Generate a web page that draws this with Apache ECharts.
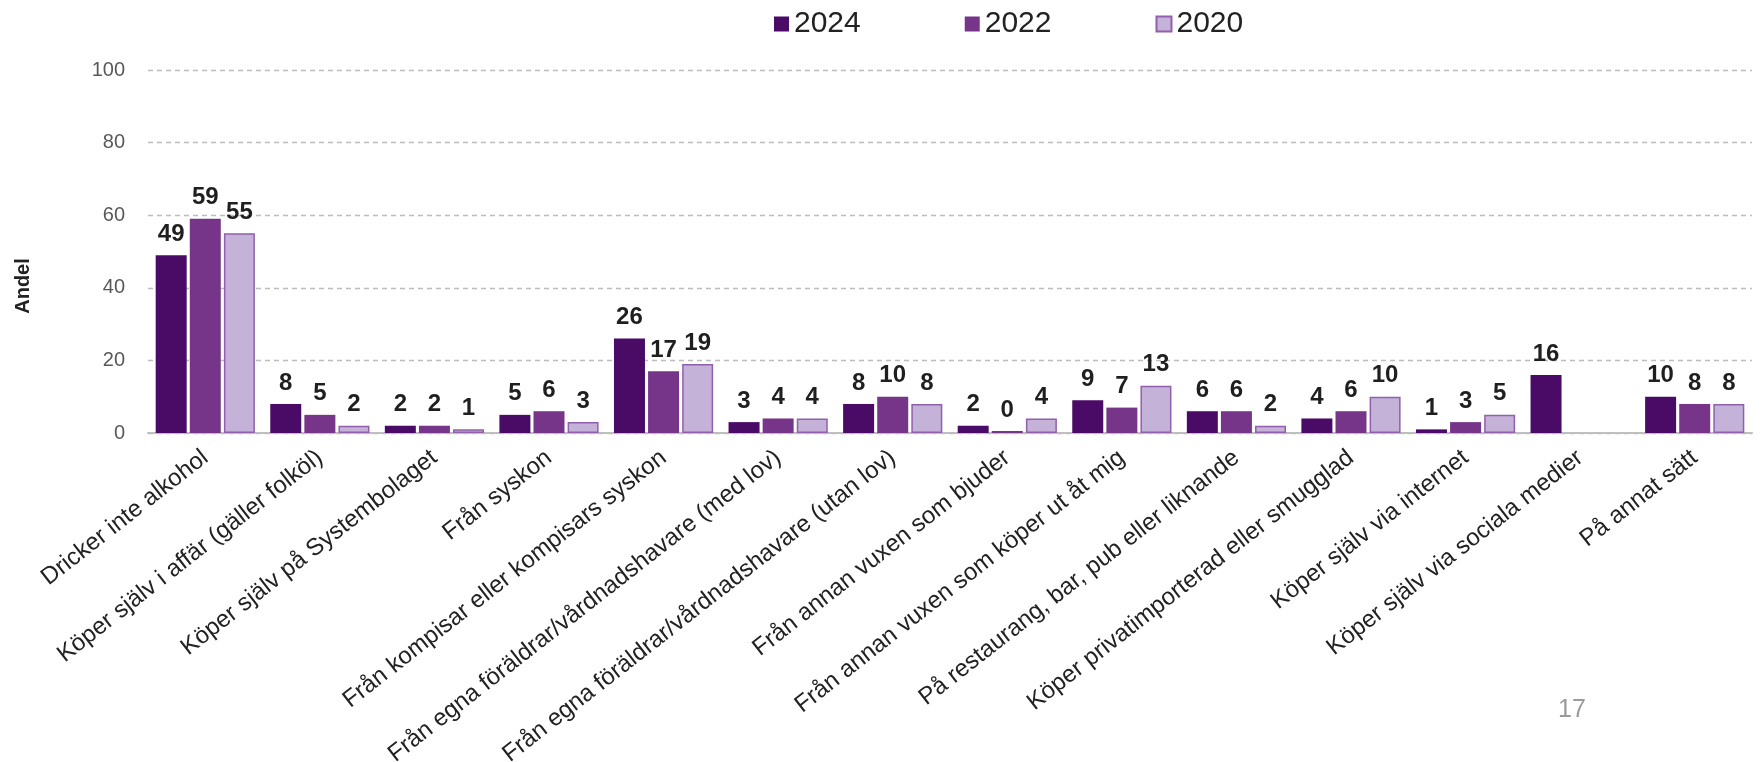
<!DOCTYPE html>
<html>
<head>
<meta charset="utf-8">
<script src="https://cdn.jsdelivr.net/npm/echarts@6/dist/echarts.min.js"></script>
<style>
html,body{margin:0;padding:0;background:#fff;}
#chart{width:1761px;height:762px;}
</style>
</head>
<body>
<div id="chart"></div>
<script>
const categories = [
  "Dricker inte alkohol",
  "Köper själv i affär (gäller folköl)",
  "Köper själv på Systembolaget",
  "Från syskon",
  "Från kompisar eller kompisars syskon",
  "Från egna föräldrar/vårdnadshavare (med lov)",
  "Från egna föräldrar/vårdnadshavare (utan lov)",
  "Från annan vuxen som bjuder",
  "Från annan vuxen som köper ut åt mig",
  "På restaurang, bar, pub eller liknande",
  "Köper privatimporterad eller smugglad",
  "Köper själv via internet",
  "Köper själv via sociala medier",
  "På annat sätt"
];
const seriesNames = ["2024", "2022", "2020"];
const values2024 = [49, 8, 2, 5, 26, 3, 8, 2, 9, 6, 4, 1, 16, 10];
const values2022 = [59, 5, 2, 6, 17, 4, 10, 0, 7, 6, 6, 3, null, 8];
const values2020 = [55, 2, 1, 3, 19, 4, 8, 4, 13, 2, 10, 5, null, 8];
const yTicks = [0, 20, 40, 60, 80, 100];

const FONT = "Liberation Sans, Arial, sans-serif";
const colors = ["#4a0b67", "#763589", "#c4b2d9"];

const chart = echarts.init(document.getElementById('chart'), null, {renderer: 'canvas'});

function makeSeries(name, data, idx) {
  return {
    name: name,
    type: 'bar',
    data: data,
    barWidth: 31,
    barGap: '10%',
    barMinHeight: idx === 1 ? 2 : 0,
    itemStyle: {
      color: colors[idx],
      borderColor: idx === 2 ? '#915fab' : colors[idx],
      borderWidth: idx === 2 ? 1.5 : 0
    },
    label: {
      show: true,
      position: 'top',
      distance: 9,
      fontFamily: FONT,
      fontWeight: 'bold',
      fontSize: 24,
      color: '#1f1f1f',
      formatter: p => (p.value === null || p.value === undefined) ? '' : String(Math.round(p.value))
    }
  };
}

const option = {
  backgroundColor: '#ffffff',
  animation: false,
  legend: {
    data: seriesNames,
    top: 4,
    left: 769,
    itemWidth: 15,
    itemHeight: 15,
    itemGap: 104,
    icon: 'rect',
    textStyle: {fontFamily: FONT, fontSize: 30, color: '#222'}
  },
  grid: {left: 148, right: 9, top: 70, bottom: 329, containLabel: false, outerBoundsMode: 'none'},
  xAxis: {
    type: 'category',
    data: categories,
    axisTick: {show: false},
    axisLine: {show: true, lineStyle: {color: '#bfbfbf', width: 2}},
    axisLabel: {
      interval: 0,
      rotate: 38,
      margin: 22,
      fontFamily: FONT,
      fontSize: 24,
      color: '#222'
    }
  },
  yAxis: {
    type: 'value',
    min: yTicks[0],
    max: yTicks[yTicks.length - 1],
    interval: 20,
    axisLine: {show: false},
    axisTick: {show: false},
    axisLabel: {fontFamily: FONT, fontSize: 20, color: '#595959', margin: 23},
    splitLine: {show: true, lineStyle: {color: '#bdbdbd', type: [5, 4], width: 1.3}}
  },
  graphic: [
    {
      type: 'text',
      x: 23,
      y: 286,
      rotation: Math.PI / 2,
      style: {
        text: 'Andel',
        fontFamily: FONT,
        fontWeight: 'bold',
        fontSize: 20,
        fill: '#222',
        align: 'center',
        verticalAlign: 'middle'
      }
    },
    {
      type: 'text',
      x: 1572,
      y: 710,
      style: {
        text: '17',
        fontFamily: FONT,
        fontSize: 25,
        fill: '#9a9a9a',
        align: 'center',
        verticalAlign: 'middle'
      }
    }
  ],
  series: [
    makeSeries(seriesNames[0], values2024, 0),
    makeSeries(seriesNames[1], values2022, 1),
    makeSeries(seriesNames[2], values2020, 2)
  ]
};
chart.setOption(option);
</script>
</body>
</html>
